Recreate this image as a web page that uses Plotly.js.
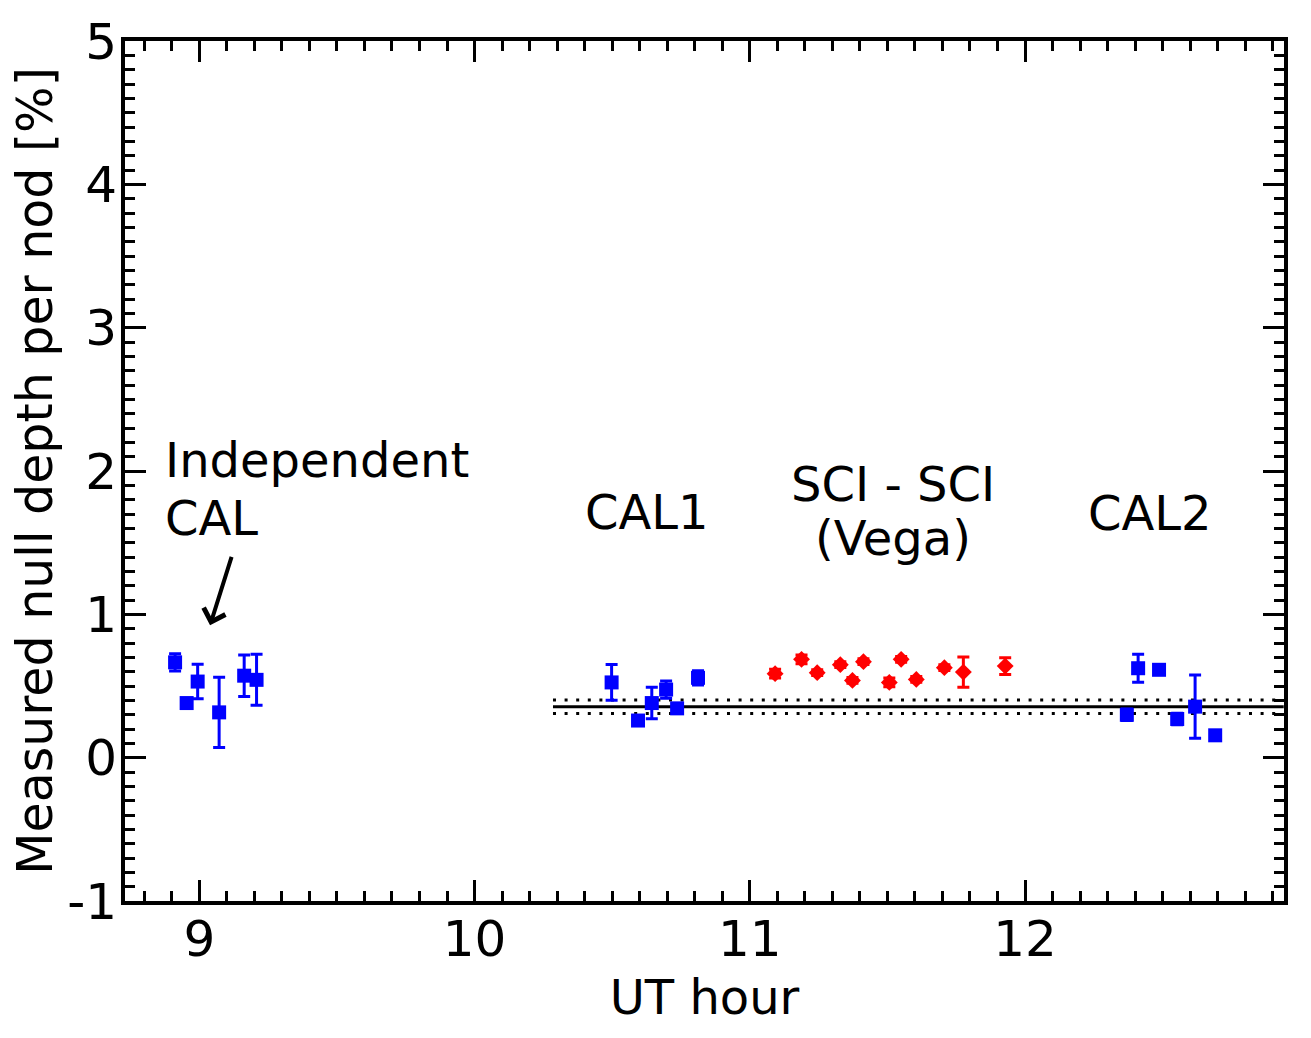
<!DOCTYPE html>
<html>
<head>
<meta charset="utf-8">
<script src="https://cdn.plot.ly/plotly-3.0.1.min.js"></script>
<style>
  html, body { margin: 0; padding: 0; background: #fff; }
  #chart { width: 1311px; height: 1038px; }
</style>
</head>
<body>
<div id="chart"></div>
<script>
"use strict";

// independent calibrator (blue squares)
let calIndepX = [8.912, 8.954, 8.994, 9.072, 9.163, 9.208];
let calIndepY = [0.665, 0.381, 0.531, 0.316, 0.572, 0.543];
let calIndepErr = [0.06, 0.03, 0.12, 0.245, 0.145, 0.178];

// CAL1 (blue squares)
let cal1X = [10.498, 10.594, 10.644, 10.696, 10.736, 10.812];
let cal1Y = [0.525, 0.259, 0.381, 0.475, 0.344, 0.557];
let cal1Err = [0.125, 0.03, 0.11, 0.06, 0.03, 0.05];

// SCI - Vega (red diamonds)
let sciX = [11.092, 11.188, 11.245, 11.329, 11.373, 11.413, 11.507, 11.550, 11.605, 11.707, 11.776, 11.928];
let sciY = [0.586, 0.686, 0.593, 0.649, 0.539, 0.670, 0.525, 0.686, 0.546, 0.628, 0.597, 0.639];
let sciErr = [0.03, 0.03, 0.02, 0.02, 0.02, 0.02, 0.03, 0.02, 0.02, 0.02, 0.105, 0.058];

// CAL2 (blue squares)
let cal2X = [12.370, 12.411, 12.487, 12.553, 12.618, 12.691];
let cal2Y = [0.299, 0.624, 0.613, 0.270, 0.356, 0.156];
let cal2Err = [0.04, 0.097, 0.02, 0.04, 0.22, 0.03];

// mean calibrated null and its uncertainty
let nullLineX = [10.285, 12.94];
let nullMean = 0.356;
let nullErr = 0.047;

let yTickVals = [-1, 0, 1, 2, 3, 4, 5];
let yTickText = ["-1", "0", "1", "2", "3", "4", "5"];
let xTickVals = [9, 10, 11, 12];

const BLUE = "rgb(0, 0, 255)";
const RED = "rgb(255, 0, 0)";
const FONT = "DejaVu Sans";

function pointTrace(x, y, err, color, symbol, size) {
    return {
        x: x,
        y: y,
        type: "scatter",
        mode: "markers",
        marker: {color: color, symbol: symbol, size: size},
        error_y: {type: "data", array: err, visible: true, color: color, thickness: 3, width: 6},
        hoverinfo: "none",
        showlegend: false
    };
}

function levelTrace(level, dash) {
    return {
        x: nullLineX,
        y: nullLineX.map(function () { return level; }),
        type: "scatter",
        mode: "lines",
        line: {color: "black", width: 3, dash: dash},
        hoverinfo: "none",
        showlegend: false
    };
}

let data = [
    levelTrace(nullMean, "solid"),
    levelTrace(nullMean + nullErr, "3px,8.6px"),
    levelTrace(nullMean - nullErr, "3px,8.6px"),
    pointTrace(calIndepX, calIndepY, calIndepErr, BLUE, "square", 14),
    pointTrace(cal1X, cal1Y, cal1Err, BLUE, "square", 14),
    pointTrace(cal2X, cal2Y, cal2Err, BLUE, "square", 14),
    pointTrace(sciX, sciY, sciErr, RED, "diamond", 13)
];

function label(text, x, y, xanchor, yanchor) {
    return {
        text: text, x: x, y: y, xref: "x", yref: "y",
        xanchor: xanchor || "center", yanchor: yanchor || "middle",
        showarrow: false, borderpad: 0,
        font: {family: FONT, size: 48, color: "black"}
    };
}

let axisCommon = {
    showgrid: false,
    zeroline: false,
    showline: true,
    linecolor: "black",
    linewidth: 4,
    mirror: "ticks",
    ticks: "inside",
    ticklen: 21,
    tickwidth: 3,
    tickcolor: "black",
    tickfont: {family: FONT, size: 50, color: "black"},
    minor: {ticks: "inside", ticklen: 10, tickwidth: 3, tickcolor: "black", dtick: 0.1, showgrid: false}
};

let layout = {
    width: 1311,
    height: 1038,
    paper_bgcolor: "white",
    plot_bgcolor: "white",
    font: {family: FONT, color: "black"},
    margin: {l: 125, r: 27, t: 41, b: 137},
    xaxis: Object.assign({}, axisCommon, {
        range: [8.730, 12.941],
        tickmode: "array",
        tickvals: xTickVals,
        ticklabelstandoff: -9,
        title: {text: "UT hour", font: {family: FONT, size: 48, color: "black"}, standoff: 14}
    }),
    yaxis: Object.assign({}, axisCommon, {
        range: [-1, 5],
        tickmode: "array",
        tickvals: yTickVals,
        ticktext: yTickText,
        ticklabelstandoff: -6,
        title: {text: "Measured null depth per nod [%]", font: {family: FONT, size: 49, color: "black"}, standoff: 0}
    }),
    annotations: [
        label("Independent", 8.872, 1.872, "left", "bottom"),
        label("CAL", 8.872, 1.872, "left", "top"),
        label("CAL1", 10.625, 1.713),
        label("SCI - SCI", 11.522, 1.907, "center", "middle"),
        label("(Vega)", 11.522, 1.53),
        label("CAL2", 12.455, 1.71),
        {
            text: "", x: 9.039, y: 0.923, xref: "x", yref: "y",
            showarrow: true, ax: 22, ay: -70,
            arrowhead: 4, arrowsize: 1.1, arrowwidth: 4, arrowcolor: "black",
            standoff: 0, startstandoff: 0
        }
    ]
};

Plotly.newPlot("chart", data, layout, {staticPlot: true, displayModeBar: false});
</script>
</body>
</html>
